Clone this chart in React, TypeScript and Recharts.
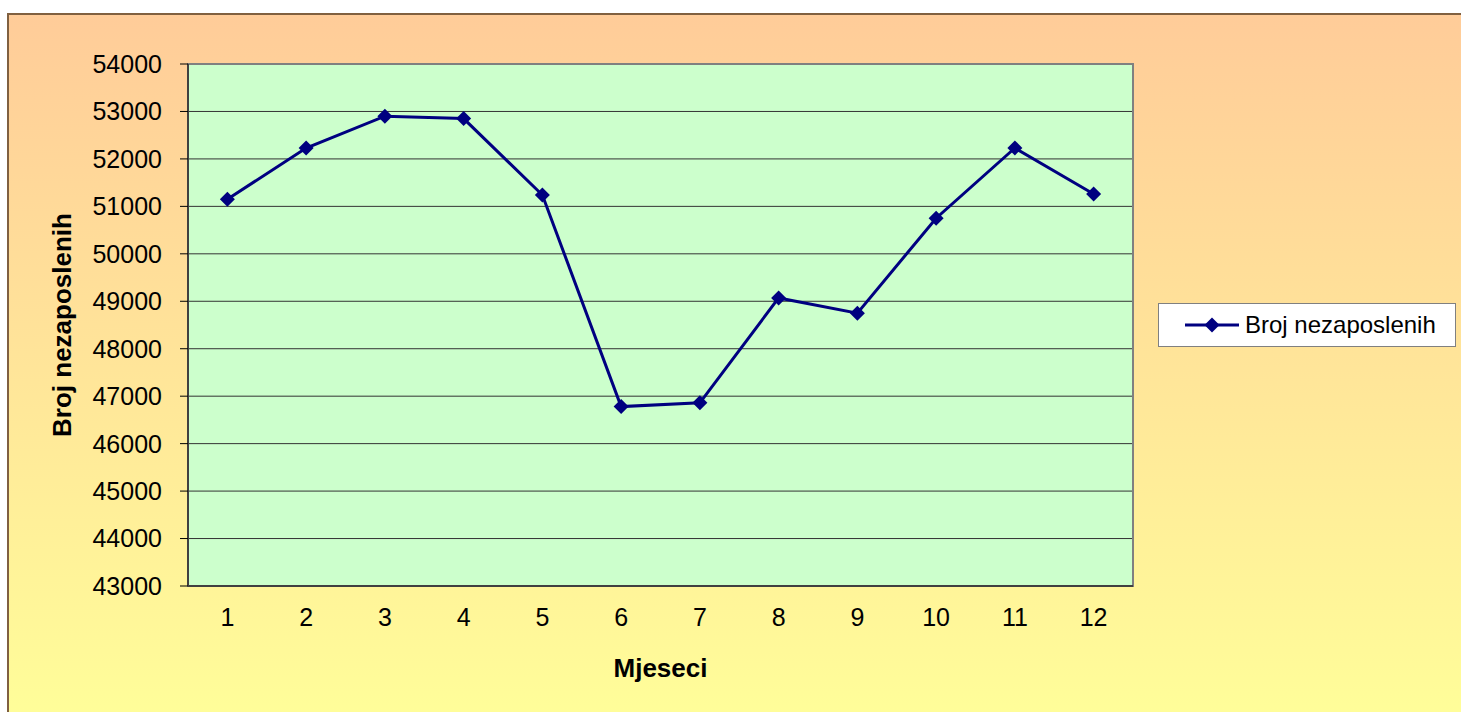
import { CartesianGrid, Legend, Line, LineChart, ReferenceArea, XAxis, YAxis } from "recharts";

const months = [1, 2, 3, 4, 5, 6, 7, 8, 9, 10, 11, 12];
const unemployed = [51150, 52230, 52900, 52850, 51240, 46780, 46860, 49070, 48750, 50750, 52230, 51260];
const yTicks = [43000, 44000, 45000, 46000, 47000, 48000, 49000, 50000, 51000, 52000, 53000, 54000];
const boundaries = [0.5, ...months.map((m) => m + 0.5)];

const seriesName = "Broj nezaposlenih";
const xTitle = "Mjeseci";

const data = months.map((m, i) => ({ month: m, value: unemployed[i] }));

const font = "'Liberation Sans', Arial, sans-serif";
const navy = "#000080";

// axis 0 = boundary tick marks (inner), axis 1 = month labels + title (outer)
const TICK_AXIS = 0;
const LABEL_AXIS = 1;

function Diamond(props: any) {
  const { cx, cy } = props;
  if (cx == null || cy == null) return null;
  const r = 7.5;
  return <polygon points={`${cx},${cy - r} ${cx + r},${cy} ${cx},${cy + r} ${cx - r},${cy}`} fill={navy} />;
}

function LegendBox() {
  return (
    <div
      style={{
        width: 296,
        height: 42,
        background: "#fff",
        border: "1px solid #808080",
        display: "flex",
        alignItems: "center",
        fontFamily: font,
        fontSize: 24,
        color: "#000",
      }}
    >
      <svg width={86} height={42} style={{ flex: "none" }}>
        <line x1={26} x2={80} y1={21} y2={21} stroke={navy} strokeWidth={3} />
        <polygon points="53,13.5 60.5,21 53,28.5 45.5,21" fill={navy} />
      </svg>
      <span>{seriesName}</span>
    </div>
  );
}

export default function App() {
  return (
    <div style={{ position: "absolute", left: 0, top: 0, width: 1461, height: 712, overflow: "hidden", background: "#fff" }}>
      <div
        style={{
          position: "absolute",
          left: 7,
          top: 13,
          width: 1470,
          height: 720,
          border: "2px solid #806040",
          background: "linear-gradient(to bottom, #ffcc99 0%, #ffff99 100%)",
        }}
      />
      <div style={{ position: "absolute", left: 0, top: 0 }}>
        <LineChart width={1461} height={712} data={data} margin={{ top: 64, right: 328, bottom: 8, left: 38 }}>
          <CartesianGrid horizontal vertical={false} stroke="#333" fill="#ccffcc" xAxisId={LABEL_AXIS} />
          <XAxis
            xAxisId={TICK_AXIS}
            type="number"
            dataKey="month"
            domain={[0.5, 12.5]}
            ticks={boundaries}
            tick={false}
            tickSize={7}
            height={8}
            stroke="#000"
            axisLine={{ stroke: "#404040", strokeWidth: 2 }}
          />
          <XAxis
            xAxisId={LABEL_AXIS}
            type="number"
            dataKey="month"
            domain={[0.5, 12.5]}
            ticks={months}
            axisLine={false}
            tickLine={false}
            tickSize={0}
            tickMargin={14}
            height={110}
            tick={{ fill: "#000", fontSize: 25, fontFamily: font }}
            label={{
              content: ({ viewBox }: any) => (
                <text
                  x={viewBox.x + viewBox.width / 2}
                  y={viewBox.y + 83}
                  textAnchor="middle"
                  fontFamily={font}
                  fontSize={26}
                  fontWeight="bold"
                  fill="#000"
                >
                  {xTitle}
                </text>
              ),
            }}
          />
          <YAxis
            type="number"
            domain={[43000, 54000]}
            ticks={yTicks}
            width={150}
            interval={0}
            tickSize={8}
            tickMargin={18}
            stroke="#000"
            axisLine={{ stroke: "#404040", strokeWidth: 2 }}
            tick={{ fill: "#000", fontSize: 25, fontFamily: font }}
            label={{
              content: ({ viewBox }: any) => {
                const x = viewBox.x + 24;
                const y = viewBox.y + viewBox.height / 2;
                return (
                  <text
                    x={x}
                    y={y}
                    transform={`rotate(-90 ${x} ${y})`}
                    textAnchor="middle"
                    dominantBaseline="central"
                    fontFamily={font}
                    fontSize={26}
                    fontWeight="bold"
                    fill="#000"
                  >
                    {seriesName}
                  </text>
                );
              },
            }}
          />
          <ReferenceArea
            xAxisId={LABEL_AXIS}
            x1={0.5}
            x2={12.5}
            y1={43000}
            y2={54000}
            fill="none"
            fillOpacity={0}
            stroke="#808080"
            strokeWidth={2}
            ifOverflow="visible"
          />
          <Legend
            layout="horizontal"
            verticalAlign="middle"
            align="center"
            wrapperStyle={{ left: 1158, top: 303, width: 298, height: 44 }}
            content={() => <LegendBox />}
          />
          <Line
            xAxisId={LABEL_AXIS}
            type="linear"
            dataKey="value"
            name={seriesName}
            stroke={navy}
            strokeWidth={3}
            dot={<Diamond />}
            activeDot={false}
            isAnimationActive={false}
          />
        </LineChart>
      </div>
    </div>
  );
}
